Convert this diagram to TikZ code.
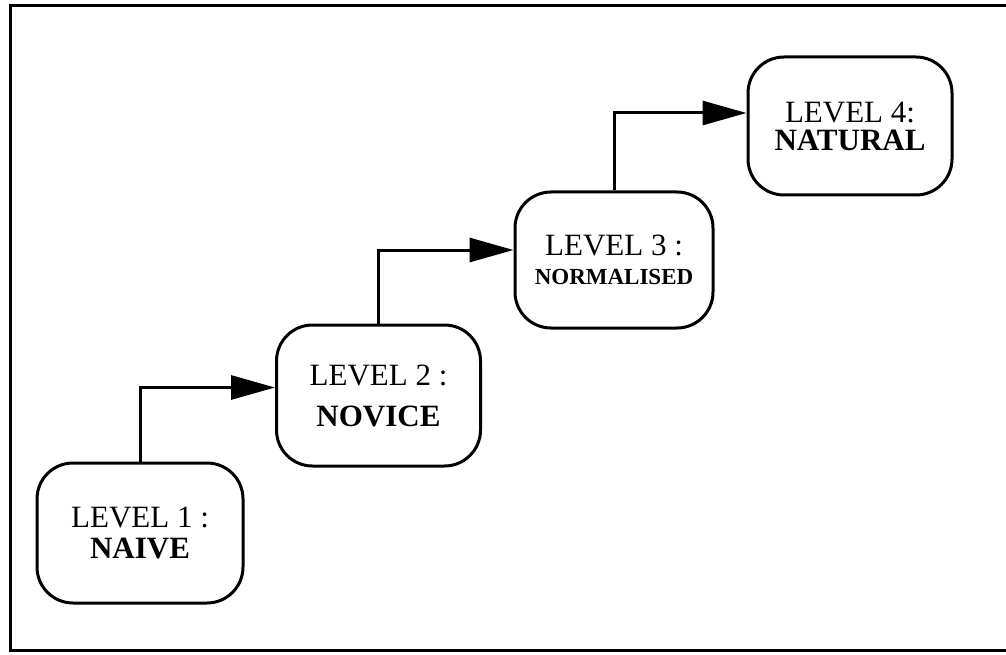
\documentclass[tikz,border=0pt]{standalone}
\usepackage{fontspec}
\setmainfont{Liberation Serif}
\usetikzlibrary{arrows.meta}
\begin{document}
\begin{tikzpicture}[x=1pt,y=-1pt,
  levelbox/.style={draw,line width=3pt,rounded corners=36pt,align=center,
    inner sep=0pt,font=\fontsize{31}{32}\selectfont},
  conn/.style={line width=3pt,-{Triangle[length=44pt,width=24pt]}},
  frame/.style={line width=3pt}]
\useasboundingbox (0,0) rectangle (1006,655);
\draw[frame] (1020,5.5) -- (10,5.5) -- (10,650) -- (1020,650);
\node[levelbox,minimum width=206pt,minimum height=140pt] (b1) at (140,533)
  {LEVEL 1 :\\[-1pt]\textbf{NAIVE}};
\node[levelbox,minimum width=204pt,minimum height=141pt] (b2) at (378.5,395.5)
  {LEVEL 2 :\\[9pt]\textbf{NOVICE}};
\node[levelbox,minimum width=198pt,minimum height=136pt] (b3) at (614,260)
  {LEVEL 3 :\\[-3pt]{\fontsize{23}{26}\selectfont\textbf{NORMALISED}}};
\node[levelbox,minimum width=204pt,minimum height=138pt] (b4) at (850,126)
  {LEVEL 4:\\[-4pt]\textbf{NATURAL}};
\draw[conn] (b1.north) |- ([yshift=8pt]b2.west);
\draw[conn] (b2.north) |- ([yshift=10pt]b3.west);
\draw[conn] (b3.north) |- ([yshift=13pt]b4.west);
\end{tikzpicture}
\end{document}
